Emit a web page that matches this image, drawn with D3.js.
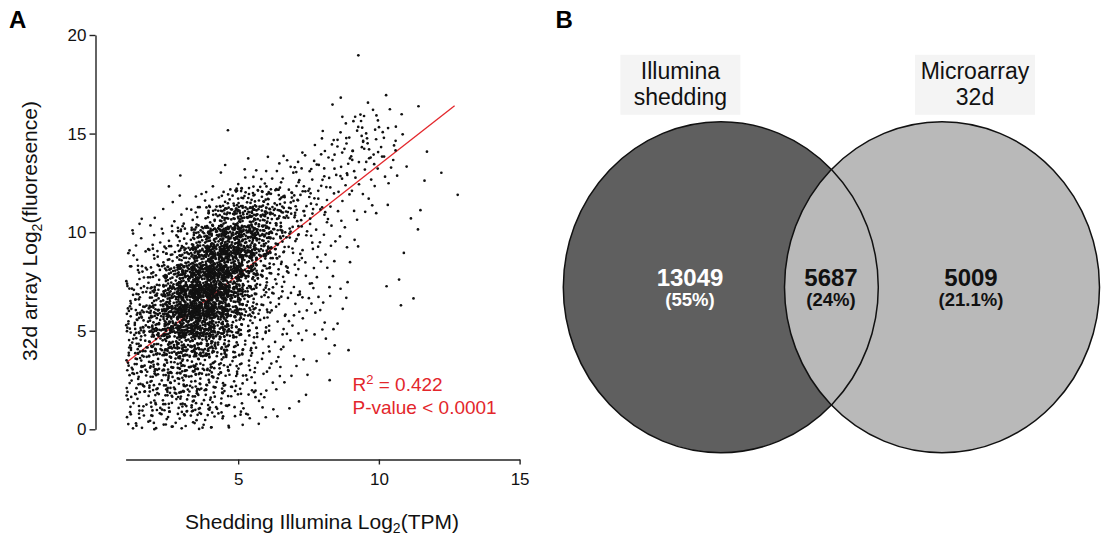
<!DOCTYPE html>
<html>
<head>
<meta charset="utf-8">
<script src="https://cdn.jsdelivr.net/npm/d3@7"></script>
<style>
  body { margin: 0; background: #fff; }
  svg { display: block; font-family: "Liberation Sans", Arial, Helvetica, sans-serif; }
</style>
</head>
<body>
<svg id="fig" width="1105" height="537"></svg>
<script>
// ---- panel A: scatter, read off the picture as point counts per bin ----
// x bins are 0.5 wide (left edges below), y bins are 1 unit tall (bottom edges below)
const xBinLefts = [1, 1.5, 2, 2.5, 3, 3.5, 4, 4.5, 5, 5.5, 6, 6.5, 7, 7.5, 8, 8.5, 9, 9.5, 10, 10.5, 11, 11.5, 12, 12.5];
const yBinBottoms = [18, 17, 16, 15, 14, 13, 12, 11, 10, 9, 8, 7, 6, 5, 4, 3, 2, 1, 0];
const binCounts = [
  [0,0,0,0,0,0,0,0,0,0,0,0,0,0,0,0,1,0,0,0,0,0,0,0],
  [0,0,0,0,0,0,0,0,0,0,0,0,0,0,0,0,0,0,0,0,0,0,0,0],
  [0,0,0,0,0,0,0,0,0,0,0,0,0,0,1,1,0,1,1,0,1,0,0,0],
  [0,0,0,0,0,0,0,1,0,0,0,0,0,0,1,2,4,6,5,1,0,0,0,0],
  [0,0,0,0,0,0,0,0,0,0,0,0,1,2,3,5,8,9,5,2,0,1,0,0],
  [0,0,0,0,0,0,1,1,2,1,2,3,4,4,6,7,6,4,2,2,0,0,1,0],
  [0,0,0,2,0,0,0,1,3,4,5,6,6,5,5,4,3,2,2,1,0,1,0,0],
  [0,0,1,2,1,4,10,18,26,28,24,18,12,7,4,3,2,3,1,0,1,0,0,1],
  [2,2,2,3,6,15,30,44,50,44,28,14,8,5,3,2,1,1,0,0,2,0,0,0],
  [2,4,6,10,25,48,72,85,75,50,24,10,6,4,3,2,2,0,0,0,0,0,0,0],
  [4,6,10,20,45,75,100,90,60,30,13,7,4,3,3,1,0,0,0,1,0,0,0,0],
  [8,12,24,48,88,112,106,75,40,16,8,5,5,3,2,2,0,0,1,1,0,0,0,0],
  [12,18,36,72,112,125,100,62,30,13,7,5,4,3,2,2,0,0,0,1,1,0,0,0],
  [15,28,45,78,100,94,68,42,18,10,6,3,3,2,2,1,0,0,0,0,0,0,0,0],
  [15,22,34,50,56,52,38,22,11,7,5,3,2,1,2,1,0,0,0,0,0,0,0,0],
  [17,22,27,31,31,26,19,13,9,6,4,2,2,1,1,0,0,0,0,0,0,0,0,0],
  [13,16,19,21,21,19,14,10,7,5,3,2,1,0,1,0,0,0,0,0,0,0,0,0],
  [9,12,13,16,21,16,12,8,6,4,2,1,2,0,0,0,0,0,0,0,0,0,0,0],
  [7,8,9,9,9,8,6,5,4,2,1,0,0,0,0,0,0,0,0,0,0,0,0,0]
];
const xTicks = [5, 10, 15];
const yTicks = [0, 5, 10, 15, 20];
const fitSlope = 1.117;      // red regression line
const fitIntercept = 2.235;
const fitXRange = [1.03, 12.69];
const rSquared = "0.422";
const pValue = "P-value < 0.0001";

// ---- panel B: venn ----
const vennLabels = [["Illumina", "shedding"], ["Microarray", "32d"]];
const vennCounts = [13049, 5687, 5009];
const vennPercents = ["(55%)", "(24%)", "(21.1%)"];

const svg = d3.select("#fig");
svg.append("rect").attr("width", 1105).attr("height", 537).attr("fill", "#fff");

// ===== panel A =====
const x = d3.scaleLinear().domain([1, 15]).range([125.6, 519.6]);
const y = d3.scaleLinear().domain([0, 20]).range([429.3, 35]);

svg.append("text").attr("x", 9).attr("y", 27.5)
  .attr("font-size", 24).attr("font-weight", "bold").text("A");

// halton sequence, used to lay a bin's points out over (a little beyond) the bin
function halton(i, b) {
  let f = 1, r = 0;
  while (i > 0) { f /= b; r += f * (i % b); i = Math.floor(i / b); }
  return r;
}
const points = [];
binCounts.forEach((row, r) => {
  row.forEach((n, c) => {
    const start = ((r * 24 + c) * 37) % 997;
    const spread = n > 4 ? 0.35 : 0;   // sparse bins stay inside their bin
    for (let k = 0; k < n; k++) {
      let px = xBinLefts[c] + 0.5 * (-spread + (1 + 2 * spread) * halton(start + k + 1, 2));
      let py = yBinBottoms[r] + (-spread + (1 + 2 * spread) * halton(start + k + 1, 3));
      if (px < 1.02) px = 2.04 - px;   // cloud has a hard left edge
      if (py < 0) py = -py;            // and a hard floor
      points.push({ x: px, y: py });
    }
  });
});

svg.append("line")
  .attr("x1", x(fitXRange[0])).attr("y1", y(fitIntercept + fitSlope * fitXRange[0]))
  .attr("x2", x(fitXRange[1])).attr("y2", y(fitIntercept + fitSlope * fitXRange[1]))
  .attr("stroke", "#e3262b").attr("stroke-width", 1.3);

svg.append("g")
  .selectAll("circle")
  .data(points)
  .enter()
  .append("circle")
  .attr("cx", d => x(d.x))
  .attr("cy", d => y(d.y))
  .attr("r", 1.35)
  .attr("fill", "#111");

const yAxis = svg.append("g")
  .attr("transform", "translate(95.5,0)")
  .call(d3.axisLeft(y).tickValues(yTicks).tickSize(6).tickSizeOuter(0).tickPadding(3));
const xAxis = svg.append("g")
  .attr("transform", "translate(0,459.5)")
  .call(d3.axisBottom(x).tickValues(xTicks).tickSize(5).tickSizeOuter(0).tickPadding(8));

[xAxis, yAxis].forEach(g => {
  g.attr("font-family", null).attr("font-size", null);
  g.selectAll(".domain, line").attr("stroke", "#222").attr("stroke-width", 1.4);
  g.selectAll("text").attr("font-size", 17).attr("fill", "#111");
});

// axis titles
const xTitle = svg.append("text").attr("x", 322).attr("y", 528.5)
  .attr("text-anchor", "middle").attr("font-size", 21).attr("fill", "#111");
xTitle.append("tspan").text("Shedding Illumina Log");
xTitle.append("tspan").attr("dy", 4).attr("font-size", 14).text("2");
xTitle.append("tspan").attr("dy", -4).text("(TPM)");

const yTitle = svg.append("text").attr("transform", "translate(36.5,231) rotate(-90)")
  .attr("text-anchor", "middle").attr("font-size", 21).attr("fill", "#111");
yTitle.append("tspan").text("32d array Log");
yTitle.append("tspan").attr("dy", 5).attr("font-size", 14).text("2");
yTitle.append("tspan").attr("dy", -5).text("(fluoresence)");

// stats
const stat = svg.append("g").attr("fill", "#e3262b").attr("font-size", 19);
const r2 = stat.append("text").attr("x", 352.5).attr("y", 390.7);
r2.append("tspan").text("R");
r2.append("tspan").attr("dy", -7).attr("font-size", 13).text("2");
r2.append("tspan").attr("dy", 7).text(" = " + rSquared);
stat.append("text").attr("x", 352.5).attr("y", 414).text(pValue);

// ===== panel B =====
svg.append("text").attr("x", 555.5).attr("y", 27.6)
  .attr("font-size", 24).attr("font-weight", "bold").text("B");

const vennCy = 287.2, vennRx = 157.5, vennRy = 165.5;
const vennCx = [720.8, 942];
const labelCx = [680.4, 975];

vennLabels.forEach((lines, i) => {
  svg.append("rect")
    .attr("x", labelCx[i] - 60).attr("y", 54.8)
    .attr("width", 120).attr("height", 60)
    .attr("fill", "#f4f4f4");
  lines.forEach((t, j) => {
    svg.append("text")
      .attr("x", labelCx[i]).attr("y", 78.8 + j * 25.7)
      .attr("text-anchor", "middle").attr("font-size", 23).attr("fill", "#111")
      .text(t);
  });
});

const fills = ["#5f5f5f", "#b9b9b9"];
vennCx.forEach((cx, i) => {
  svg.append("ellipse")
    .attr("cx", cx).attr("cy", vennCy).attr("rx", vennRx).attr("ry", vennRy)
    .attr("fill", fills[i]);
});
vennCx.forEach(cx => {
  svg.append("ellipse")
    .attr("cx", cx).attr("cy", vennCy).attr("rx", vennRx).attr("ry", vennRy)
    .attr("fill", "none").attr("stroke", "#111").attr("stroke-width", 1.5);
});

const numCx = [690, 831, 971];
const numColor = ["#fff", "#111", "#111"];
vennCounts.forEach((v, i) => {
  svg.append("text")
    .attr("x", numCx[i]).attr("y", 285.5)
    .attr("text-anchor", "middle").attr("font-size", 24).attr("font-weight", "bold")
    .attr("fill", numColor[i]).text(v);
  svg.append("text")
    .attr("x", numCx[i]).attr("y", 305.5)
    .attr("text-anchor", "middle").attr("font-size", 18.5).attr("font-weight", "bold")
    .attr("fill", numColor[i]).text(vennPercents[i]);
});
</script>
</body>
</html>
